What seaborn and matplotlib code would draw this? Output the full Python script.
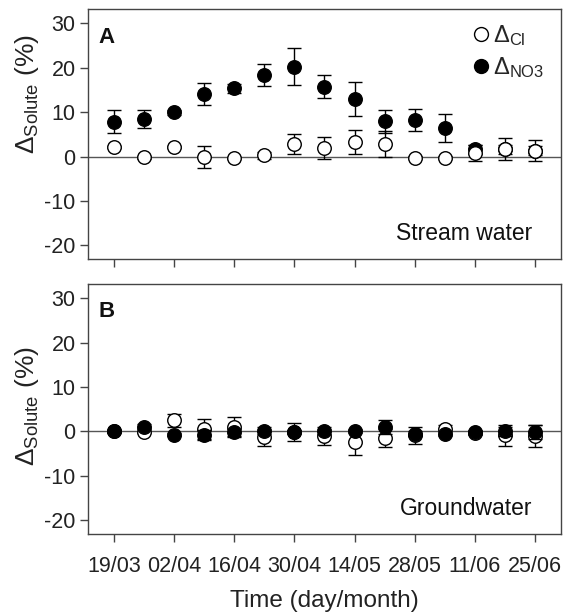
import numpy as np
import pandas as pd
import seaborn as sns
import matplotlib.pyplot as plt
import matplotlib.dates as mdates
from matplotlib.lines import Line2D

# sampling dates (weekly)
datas = pd.date_range("2013-03-19", "2013-06-25", freq="7D")
ticks = pd.date_range("2013-03-19", "2013-06-25", freq="14D")

# Painel A - agua do rio
a_cl = [2.2, -0.15, 2.2, -0.15, -0.3, 0.3, 2.85, 2.0, 3.3, 2.9, -0.2, -0.2, 0.8, 1.7, 1.35]
a_cl_err = [0.3, 0.3, 0.3, 2.5, 0.3, 0.8, 2.25, 2.5, 2.7, 2.9, 0.3, 0.3, 1.8, 2.4, 2.4]
a_no3 = [7.9, 8.4, 10.0, 14.1, 15.4, 18.4, 20.3, 15.75, 13.0, 7.95, 8.2, 6.45, 1.7, 1.7, 1.35]
a_no3_err = [2.5, 2.0, 0.6, 2.5, 1.0, 2.5, 4.1, 2.6, 3.9, 2.6, 2.5, 3.2, 1.0, 1.0, 1.0]

# Painel B - agua subterranea
b_cl = [0.0, -0.15, 2.5, 0.45, 1.0, -1.2, -0.1, -1.05, -2.4, -1.4, -0.9, 0.45, -0.3, -0.9, -1.0]
b_cl_err = [0.3, 0.3, 1.5, 2.4, 2.2, 2.1, 0.5, 2.0, 3.0, 2.0, 1.9, 1.0, 0.5, 2.3, 2.4]
b_no3 = [0.0, 1.1, -0.7, -0.75, -0.15, 0.0, -0.15, 0.0, 0.0, 1.0, -0.5, -0.6, -0.1, 0.0, -0.1]
b_no3_err = [0.3, 0.5, 0.3, 1.0, 0.8, 0.5, 2.0, 0.5, 0.3, 1.6, 0.5, 0.5, 0.5, 1.0, 1.5]

sns.set_style("ticks")
plt.rcParams['font.family'] = ['Liberation Sans', 'DejaVu Sans']
plt.rcParams['mathtext.fontset'] = 'custom'
plt.rcParams['mathtext.rm'] = 'Liberation Sans'
plt.rcParams['mathtext.it'] = 'Liberation Sans'
plt.rcParams['axes.unicode_minus'] = False

fig, axes = plt.subplots(2, 1, figsize=(5.66, 6.15), dpi=100, sharex=True)
fig.subplots_adjust(left=0.1555, right=0.991, top=0.985, bottom=0.1317, hspace=0.099)

paineis = [
    (axes[0], a_cl, a_cl_err, a_no3, a_no3_err, 'A', 'Stream water', True, 0.66),
    (axes[1], b_cl, b_cl_err, b_no3, b_no3_err, 'B', 'Groundwater', False, 0.51),
]

for ax, cl, cl_err, no3, no3_err, letra, rotulo, cl_em_cima, ylab_y in paineis:
    ax.axhline(0, color='#555555', lw=1, zorder=1)
    z_cl, z_no3 = (5, 4) if cl_em_cima else (4, 5)
    ax.errorbar(datas, no3, yerr=no3_err, fmt='none', ecolor='black',
                elinewidth=1, capsize=5, capthick=1, zorder=z_no3 - 0.5)
    ax.errorbar(datas, cl, yerr=cl_err, fmt='none', ecolor='black',
                elinewidth=1, capsize=5, capthick=1, zorder=z_cl - 0.5)
    sns.scatterplot(x=datas, y=no3, ax=ax, color='black', edgecolor='black',
                    linewidth=1, s=95, zorder=z_no3)
    sns.scatterplot(x=datas, y=cl, ax=ax, color='white', edgecolor='black',
                    linewidth=1, s=95, zorder=z_cl)

    ax.set_ylim(-23.1, 33.2)
    ax.set_yticks([-20, -10, 0, 10, 20, 30])
    ax.set_xlim(datas[0] - pd.Timedelta(days=6), datas[-1] + pd.Timedelta(days=6))
    ax.set_xticks(ticks)
    ax.xaxis.set_major_formatter(mdates.DateFormatter('%d/%m'))
    ax.set_ylabel(r'$\Delta_{\mathrm{Solute}}$ (%)', fontsize=19, color='#222222')
    ax.yaxis.set_label_coords(-0.1, ylab_y)
    ax.tick_params(labelsize=15.5, length=6, width=1, color='#444444', labelcolor='#222222', pad=3)
    ax.tick_params(axis='x', pad=10)
    for s in ax.spines.values():
        s.set_visible(True)
        s.set_color('#444444')
        s.set_linewidth(1)
    ax.text(0.023, 0.93, letra, transform=ax.transAxes, fontsize=16,
            fontweight='bold', va='top', ha='left', color='#111111')
    ax.text(0.94, 0.058, rotulo, transform=ax.transAxes, fontsize=16.5,
            va='bottom', ha='right', color='#111111')

handles = [
    Line2D([], [], marker='o', ls='none', markersize=10, markerfacecolor='white',
           markeredgecolor='black', markeredgewidth=1),
    Line2D([], [], marker='o', ls='none', markersize=10, markerfacecolor='black',
           markeredgecolor='black', markeredgewidth=1),
]
axes[0].legend(handles, [r'$\Delta_{\mathrm{Cl}}$', r'$\Delta_{\mathrm{NO3}}$'],
               loc='upper right', frameon=False, fontsize=17, handletextpad=0.1,
               handlelength=0.8, borderaxespad=0.2, labelspacing=0.3,
               bbox_to_anchor=(0.995, 1.0))

axes[1].set_xlabel('Time (day/month)', fontsize=17.5, color='#222222', labelpad=9)

plt.savefig("out.png", dpi=100)
